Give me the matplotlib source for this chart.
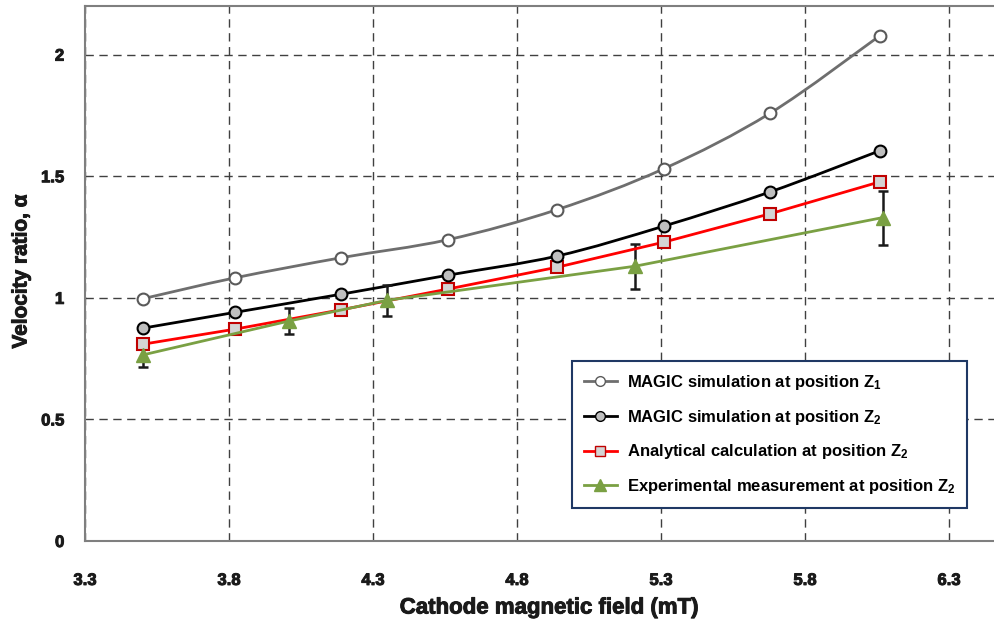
import matplotlib
matplotlib.use("Agg")
import matplotlib.pyplot as plt
import matplotlib.patheffects as pe
from matplotlib.path import Path
from matplotlib.patches import PathPatch
from matplotlib.lines import Line2D
import numpy as np

# ---- data -------------------------------------------------------------
b_sim = [3.50, 3.82, 4.19, 4.56, 4.94, 5.31, 5.68, 6.06]
alpha_z1 = [0.996, 1.082, 1.165, 1.239, 1.363, 1.531, 1.760, 2.078]
alpha_z2 = [0.875, 0.940, 1.015, 1.093, 1.172, 1.295, 1.436, 1.605]
alpha_calc = [0.809, 0.871, 0.951, 1.036, 1.126, 1.229, 1.346, 1.477]

b_exp = [3.50, 4.01, 4.35, 5.21, 6.07]
alpha_exp = [0.765, 0.905, 0.990, 1.130, 1.330]
alpha_exp_err = [0.048, 0.053, 0.064, 0.092, 0.111]

x_ticks = [3.3, 3.8, 4.3, 4.8, 5.3, 5.8, 6.3]
y_ticks = [0, 0.5, 1, 1.5, 2]
y_tick_labels = ["0", "0.5", "1", "1.5", "2"]

labels = [
    r"MAGIC simulation at position Z$_{\mathbf{1}}$",
    r"MAGIC simulation at position Z$_{\mathbf{2}}$",
    r"Analytical calculation at position Z$_{\mathbf{2}}$",
    r"Experimental measurement at position Z$_{\mathbf{2}}$",
]

# ---- styling -------------------------------------------------------------
plt.rcParams["mathtext.fontset"] = "custom"
plt.rcParams["mathtext.rm"] = "Liberation Sans:bold"
plt.rcParams["mathtext.bf"] = "Liberation Sans:bold"
plt.rcParams["mathtext.it"] = "Liberation Sans:bold"

c_z1 = "#6e6e6e"
c_z2 = "#000000"
c_calc = "#ff0000"
c_exp = "#7aa043"
c_text = "#1a1a1a"
label_font = "Liberation Sans"
heavy = [pe.withStroke(linewidth=0.7, foreground=c_text)]


def smooth_path(xs, ys):
    """Catmull-Rom style cubic Bezier path through the given points."""
    pts = np.column_stack([xs, ys]).astype(float)
    ext = np.vstack([pts[0], pts, pts[-1]])
    verts = [pts[0]]
    codes = [Path.MOVETO]
    for i in range(1, len(ext) - 2):
        p0, p1, p2, p3 = ext[i - 1], ext[i], ext[i + 1], ext[i + 2]
        c1 = p1 + (p2 - p0) / 6.0
        c2 = p2 - (p3 - p1) / 6.0
        verts += [c1, c2, p2]
        codes += [Path.CURVE4] * 3
    return Path(verts, codes)


fig = plt.figure(figsize=(9.95, 6.24), dpi=100)
ax = fig.add_axes([85 / 995, 1 - 541 / 624, 921.6 / 995, 535 / 624])

ax.set_xlim(3.3, 6.5)
ax.set_ylim(0, 2.2)

# grid
ax.set_xticks(x_ticks)
ax.set_yticks(y_ticks)
ax.grid(True, color="#404040", linestyle=(0, (6, 4)), linewidth=1.0)
ax.set_axisbelow(True)

# smoothed simulation curves
ax.add_patch(PathPatch(smooth_path(b_sim, alpha_z1), fill=False,
                       edgecolor=c_z1, linewidth=2.0, zorder=3))
ax.add_patch(PathPatch(smooth_path(b_sim, alpha_z2), fill=False,
                       edgecolor=c_z2, linewidth=2.0, zorder=3))
ax.plot(b_sim, alpha_z1, linestyle="none", marker="o", markersize=8.5,
        markerfacecolor="white", markeredgecolor="#5a5a5a",
        markeredgewidth=1.5, zorder=6)
ax.plot(b_sim, alpha_z2, linestyle="none", marker="o", markersize=8.5,
        markerfacecolor="#bfbfbf", markeredgecolor="black",
        markeredgewidth=1.5, zorder=6)

# analytical calculation
ax.plot(b_sim, alpha_calc, color=c_calc, linewidth=2.0, marker="s",
        markersize=8, markerfacecolor="#d4d4d4", markeredgecolor="#c00000",
        markeredgewidth=1.5, zorder=5)

# experiment with error bars
ax.errorbar(b_exp, alpha_exp, yerr=alpha_exp_err, fmt="none",
            ecolor=c_text, elinewidth=1.8, capsize=3.5, capthick=1.8,
            zorder=4)
ax.plot(b_exp, alpha_exp, color=c_exp, linewidth=2.0, marker="^",
        markersize=10, markerfacecolor=c_exp, markeredgecolor=c_exp,
        zorder=5)

# spines
for side in ("left", "bottom", "top"):
    ax.spines[side].set_color("#7f7f7f")
    ax.spines[side].set_linewidth(1.5)
ax.spines["right"].set_visible(False)

ax.tick_params(axis="both", length=0)
ax.tick_params(axis="x", pad=23)
ax.tick_params(axis="y", pad=15)
ax.set_xticklabels([f"{v:.1f}" for v in x_ticks], fontfamily=label_font,
                   fontweight="bold", fontsize=12, color=c_text,
                   path_effects=heavy)
ax.set_yticklabels(y_tick_labels, fontfamily=label_font, fontweight="bold",
                   fontsize=12, color=c_text, path_effects=heavy)

fig.text(21 / 995, 1 - 271 / 624, "Velocity ratio, α", rotation=90,
         ha="center", va="center", fontfamily=label_font, fontweight="bold",
         fontsize=15, color=c_text, path_effects=heavy)
fig.text(549 / 995, 1 - 608 / 624, "Cathode magnetic field (mT)",
         ha="center", va="center", fontfamily=label_font, fontweight="bold",
         fontsize=16, color=c_text, path_effects=heavy)

# legend
handles = [
    Line2D([], [], color=c_z1, linewidth=2, marker="o", markersize=7,
           markerfacecolor="white", markeredgecolor="#5a5a5a"),
    Line2D([], [], color=c_z2, linewidth=2, marker="o", markersize=7,
           markerfacecolor="#bfbfbf", markeredgecolor="black"),
    Line2D([], [], color=c_calc, linewidth=2, marker="s", markersize=7,
           markerfacecolor="#d4d4d4", markeredgecolor="#c00000"),
    Line2D([], [], color=c_exp, linewidth=2, marker="^", markersize=9,
           markerfacecolor=c_exp, markeredgecolor=c_exp),
]
leg = ax.legend(handles, labels, loc="upper left",
                bbox_to_anchor=(572 / 995, 1 - 361 / 624),
                bbox_transform=fig.transFigure,
                prop={"family": "Liberation Sans", "weight": "bold", "size": 12},
                frameon=True, fancybox=False, handlelength=2.0,
                handletextpad=0.6, labelspacing=0.95, borderpad=0.7,
                borderaxespad=0, framealpha=1)
leg.get_frame().set_edgecolor("#1f3864")
leg.get_frame().set_linewidth(1.5)
leg.set_zorder(10)

fig.savefig("out.png", dpi=100)
